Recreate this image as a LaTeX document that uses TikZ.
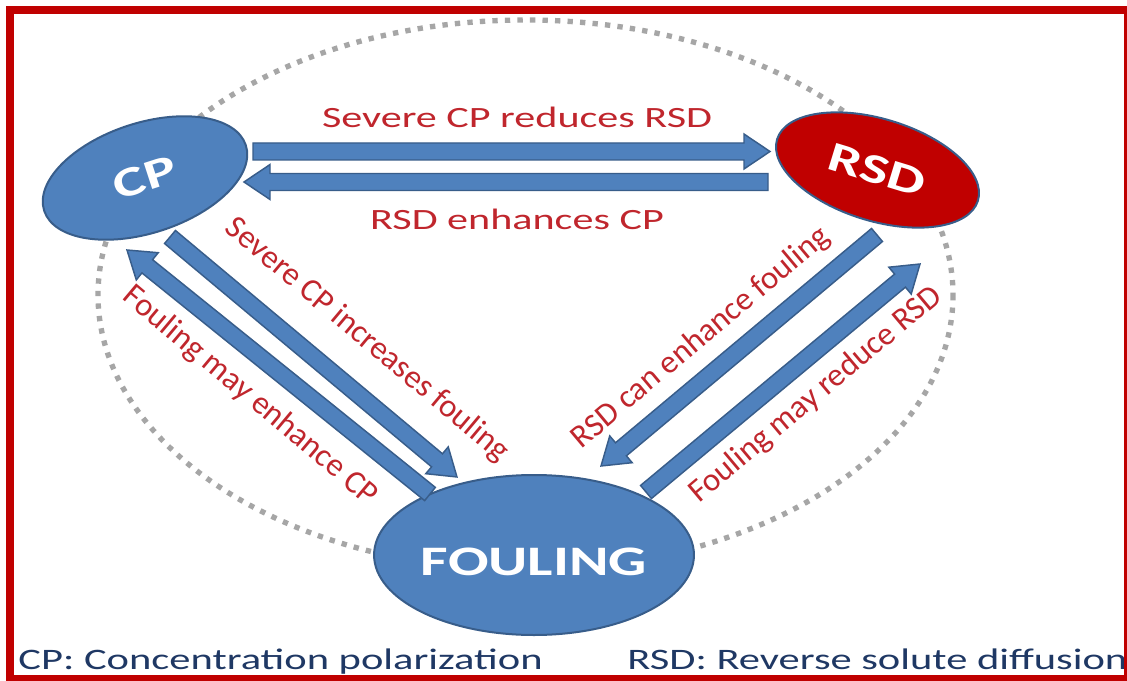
\documentclass[tikz,border=0pt]{standalone}
\usepackage{fontspec}
\setmainfont{Carlito}
\usetikzlibrary{shapes.geometric,calc}
\definecolor{nodeblue}{RGB}{79,129,189}
\definecolor{edgeblue}{RGB}{56,93,138}
\definecolor{rsdred}{RGB}{192,0,0}
\definecolor{lblred}{RGB}{192,38,45}
\definecolor{framered}{RGB}{192,0,0}
\definecolor{dotgray}{RGB}{166,166,166}
\definecolor{legendnavy}{RGB}{31,56,100}
\newcommand\myArrAng{0}
\newcommand\myArrLen{0}
% block arrow from named coordinate #1 to named coordinate #2
\newcommand\blockarr[2]{%
  \path let \p1=(#1), \p2=(#2) in
    \pgfextra{\pgfmathparse{atan2(\y2-\y1,\x2-\x1)}\xdef\myArrAng{\pgfmathresult}%
              \pgfmathparse{veclen(\x2-\x1,\y2-\y1)}\xdef\myArrLen{\pgfmathresult}};
  \draw[arrowbody, shift={(#1)}, rotate=\myArrAng]
    (0pt,-6.375pt) -- ({\myArrLen pt-19.5pt},-6.375pt) -- ({\myArrLen pt-19.5pt},-13.1pt)
    -- (\myArrLen pt,0pt) -- ({\myArrLen pt-19.5pt},13.1pt) -- ({\myArrLen pt-19.5pt},6.375pt)
    -- (0pt,6.375pt) -- cycle;
}
\tikzset{
  arrowbody/.style={fill=nodeblue, draw=edgeblue, line width=1.1pt, line join=miter},
  bluenode/.style={ellipse, fill=nodeblue, draw=edgeblue, line width=1.5pt, inner sep=0pt,
    text=white, font=\fontsize{31.5pt}{36pt}\selectfont\bfseries},
  hlbl/.style={text=lblred, inner sep=0pt, font=\fontsize{22.1pt}{26pt}\selectfont, xscale=1.43},
  diagL/.style={text=lblred, inner sep=0pt, font=\fontsize{24.5pt}{28pt}\selectfont, rotate=-40},
  diagR/.style={text=lblred, inner sep=0pt, font=\fontsize{24.5pt}{28pt}\selectfont, rotate=40},
  legend/.style={text=legendnavy, inner sep=0pt, font=\fontsize{22.3pt}{26pt}\selectfont, xscale=1.43},
  dotline/.style={draw=dotgray, line width=4pt, dash pattern=on 4pt off 5.4pt},
}
\begin{document}
\begin{tikzpicture}[x=0.75pt,y=-0.75pt]
\path[use as bounding box, clip] (0,0) rectangle (1127,681);
\fill[white] (0,0) rectangle (1127,681);

% dotted ring
\draw[dotline] (525.5,295) ellipse [x radius=427.5, y radius=275];

% main nodes
\node[bluenode, minimum width=159pt, minimum height=82.5pt, rotate=18] (cp) at (145,178) {\scalebox{1.43}[1]{CP}};
\node[bluenode, fill=rsdred, minimum width=157.5pt, minimum height=76.5pt, rotate=-17] (rsd) at (877.5,170) {\scalebox{1.43}[1]{RSD}};
\node[bluenode, minimum width=226.5pt, minimum height=120pt, text height=30pt, text depth=0pt] (foul) at (534,555) {\scalebox{1.43}[1]{FOULING}};

% arrow end points
\coordinate (a1s) at (253,151.5);  \coordinate (a1e) at (770,151.5);
\coordinate (a2s) at (768,182);    \coordinate (a2e) at (244,182);
\coordinate (a3s) at (170,237);    \coordinate (a3e) at (457,477);
\coordinate (a4s) at (430,494);    \coordinate (a4e) at (127,250);
\coordinate (a5s) at (877,235);    \coordinate (a5e) at (601,466);
\coordinate (a6s) at (646,492);    \coordinate (a6e) at (920,264);

\blockarr{a1s}{a1e}
\blockarr{a2s}{a2e}
\blockarr{a3s}{a3e}
\blockarr{a4s}{a4e}
\blockarr{a5s}{a5e}
\blockarr{a6s}{a6e}

% labels
\node[hlbl, anchor=base] (t1) at (517,127.5) {Severe CP reduces RSD};
\node[hlbl, anchor=base] (t2) at (517,229) {RSD enhances CP};
\node[diagL] (t3) at (367,340) {Severe CP increases fouling};
\node[diagL] (t4) at (250,396) {Fouling may enhance CP};
\node[diagR] (t5) at (701,338) {RSD can enhance fouling};
\node[diagR] (t6) at (816,395) {Fouling may reduce RSD};

% legend
\node[legend, anchor=base west] (k1) at (18,669) {CP: Concentration polarization};
\node[legend, anchor=base west] (k2) at (627,669) {RSD: Reverse solute diffusion};

% frame
\draw[framered, line width=6pt] (10,10) rectangle (1128,679);
\end{tikzpicture}
\end{document}
